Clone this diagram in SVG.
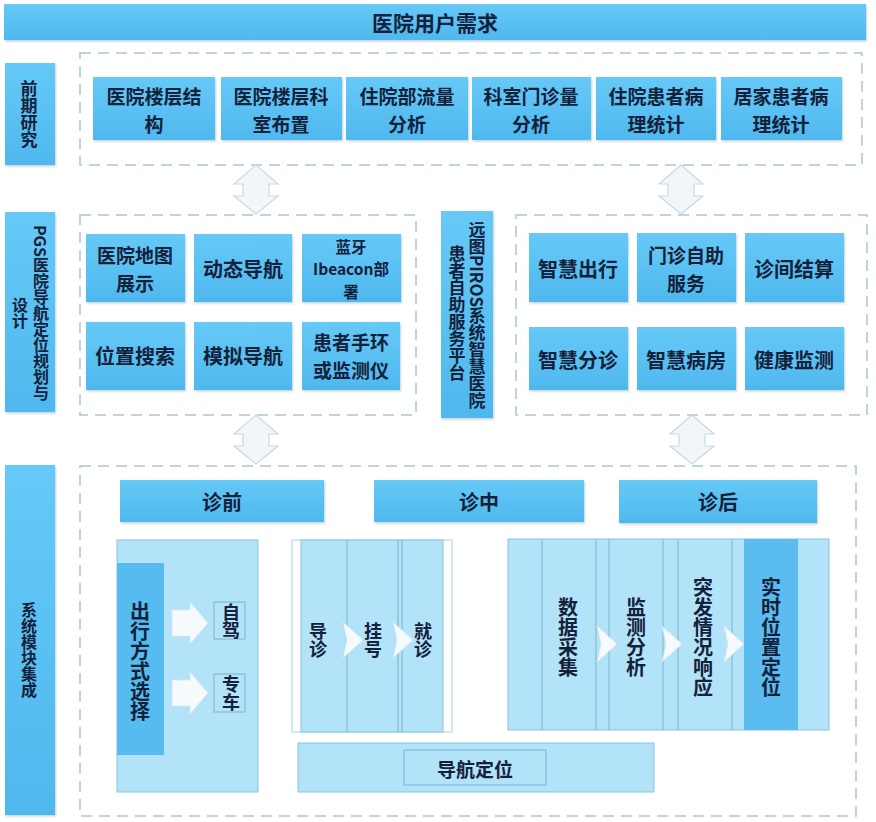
<svg xmlns="http://www.w3.org/2000/svg" width="876" height="822" viewBox="0 0 876 822">
<style>
.box{fill:url(#g);filter:url(#sh);}
.dark{fill:#56bbef;}
.pan{fill:#b3e3f8;stroke:#8cc3dc;stroke-width:1;}
.ol{fill:none;stroke:#7fb3cc;stroke-width:1;}
.dash{fill:none;stroke:#a7c8d6;stroke-width:1.5;stroke-dasharray:11 7;}
.t{font-family:"Noto Sans CJK SC","Noto Sans",sans-serif;font-weight:700;fill:#14213a;text-anchor:middle;dominant-baseline:central;}
.s{font-family:"Noto Sans CJK SC","Noto Sans",sans-serif;font-weight:600;fill:#14213a;text-anchor:middle;dominant-baseline:central;}
.v{writing-mode:vertical-rl;}
.dbl{fill:#f2f6f9;stroke:#c4dbe5;stroke-width:1.2;}
.chev{fill:#f7fafc;stroke:#d6e6ee;stroke-width:0.8;}
</style>
<defs>
<linearGradient id="g" x1="0" y1="0" x2="0" y2="1">
<stop offset="0" stop-color="#66c9f7"/>
<stop offset="1" stop-color="#4fb8ee"/>
</linearGradient>
<filter id="sh" x="-5%" y="-5%" width="110%" height="115%">
<feDropShadow dx="1" dy="1.5" stdDeviation="1" flood-color="#7a9aaa" flood-opacity="0.45"/>
</filter>
<path id="da" d="M0,0 L22,19 L13,19 L13,31 L22,31 L0,49 L-22,31 L-13,31 L-13,19 L-22,19 Z"/>
<path id="ba" d="M0,-13 L18,-13 L18,-21 L36,0 L18,21 L18,13 L0,13 Z"/>
<path id="cv" d="M0,-18 L20,0 L0,18 L4,0 Z"/>
</defs>
<rect width="876" height="822" fill="#ffffff"/>

<g id="title">
<rect class="box" x="4" y="4" width="862" height="36"/>
<text class="t" x="435" y="22" font-size="21">医院用户需求</text>
</g>

<g id="label-qianqi">
<rect class="box" x="5" y="63" width="50" height="102"/>
<text class="t v" x="29" y="114" font-size="17">前期研究</text>
</g>
<g id="label-pgs">
<rect class="box" x="5" y="212" width="50" height="200"/>
<text class="t v" x="41" y="313" font-size="16">PGS医院导航定位规划与</text>
<text class="t v" x="20" y="313" font-size="16">设计</text>
</g>
<g id="label-xitong">
<rect class="box" x="5" y="465" width="50" height="350"/>
<text class="t v" x="29" y="650" font-size="16">系统模块集成</text>
</g>
<g id="label-piros">
<rect class="box" x="441" y="211" width="52" height="207"/>
<text class="t v" x="477" y="315" font-size="17">远图PIROS系统智慧医院</text>
<text class="t v" x="457" y="313" font-size="17">患者自助服务平台</text>
</g>

<g id="frames">
<rect class="dash" x="80" y="53" width="782" height="112"/>
<rect class="dash" x="80" y="215" width="336" height="200"/>
<rect class="dash" x="516" y="215" width="351" height="200"/>
<rect class="dash" x="80" y="466" width="776" height="350"/>
</g>

<g id="row1">
<g id="n-louceng"><rect class="box" x="93" y="77" width="122" height="63"/><text class="t" font-size="19"><tspan x="154" y="94.5">医院楼层结</tspan><tspan x="154" y="122.5">构</tspan></text></g>
<g id="n-keshi"><rect class="box" x="221" y="77" width="121" height="63"/><text class="t" font-size="19"><tspan x="281" y="94.5">医院楼层科</tspan><tspan x="281" y="122.5">室布置</tspan></text></g>
<g id="n-zhuyuan"><rect class="box" x="346" y="77" width="122" height="63"/><text class="t" font-size="19"><tspan x="407" y="94.5">住院部流量</tspan><tspan x="407" y="122.5">分析</tspan></text></g>
<g id="n-menzhen"><rect class="box" x="472" y="77" width="119" height="63"/><text class="t" font-size="19"><tspan x="531" y="94.5">科室门诊量</tspan><tspan x="531" y="122.5">分析</tspan></text></g>
<g id="n-zybl"><rect class="box" x="596" y="77" width="120" height="63"/><text class="t" font-size="19"><tspan x="656" y="94.5">住院患者病</tspan><tspan x="656" y="122.5">理统计</tspan></text></g>
<g id="n-jjbl"><rect class="box" x="721" y="77" width="121" height="63"/><text class="t" font-size="19"><tspan x="781" y="94.5">居家患者病</tspan><tspan x="781" y="122.5">理统计</tspan></text></g>
</g>

<g id="row2-left">
<g id="n-ditu"><rect class="box" x="86" y="234" width="99" height="68"/><text class="t" font-size="19"><tspan x="135" y="254">医院地图</tspan><tspan x="135" y="282">展示</tspan></text></g>
<g id="n-dongtai"><rect class="box" x="194" y="234" width="98" height="68"/><text class="t" x="243" y="268" font-size="20">动态导航</text></g>
<g id="n-ibeacon"><rect class="box" x="302" y="234" width="99" height="68"/><text class="t" font-size="15.5"><tspan x="351" y="245.5">蓝牙</tspan><tspan x="351" y="268">Ibeacon部</tspan><tspan x="351" y="290.5">署</tspan></text></g>
<g id="n-sousuo"><rect class="box" x="86" y="322" width="99" height="68"/><text class="t" x="135" y="355" font-size="20">位置搜索</text></g>
<g id="n-moni"><rect class="box" x="194" y="322" width="98" height="68"/><text class="t" x="243" y="355" font-size="20">模拟导航</text></g>
<g id="n-shouhuan"><rect class="box" x="302" y="322" width="98" height="68"/><text class="t" font-size="19"><tspan x="351" y="341">患者手环</tspan><tspan x="351" y="369">或监测仪</tspan></text></g>
</g>

<g id="row2-right">
<g id="n-chuxing"><rect class="box" x="529" y="233" width="99" height="69"/><text class="t" x="578" y="268" font-size="20">智慧出行</text></g>
<g id="n-zizhu"><rect class="box" x="637" y="233" width="99" height="69"/><text class="t" font-size="19"><tspan x="686" y="254">门诊自助</tspan><tspan x="686" y="282">服务</tspan></text></g>
<g id="n-jiesuan"><rect class="box" x="745" y="233" width="99" height="69"/><text class="t" x="794" y="268" font-size="20">诊间结算</text></g>
<g id="n-fenzhen"><rect class="box" x="529" y="327" width="99" height="63"/><text class="t" x="578" y="359" font-size="20">智慧分诊</text></g>
<g id="n-bingfang"><rect class="box" x="637" y="327" width="99" height="63"/><text class="t" x="686" y="359" font-size="20">智慧病房</text></g>
<g id="n-jiankang"><rect class="box" x="745" y="327" width="99" height="63"/><text class="t" x="794" y="359" font-size="20">健康监测</text></g>
</g>

<g id="headers">
<g id="h-qian"><rect class="box" x="120" y="480" width="204" height="42"/><text class="t" x="222" y="501" font-size="20">诊前</text></g>
<g id="h-zhong"><rect class="box" x="374" y="480" width="210" height="42"/><text class="t" x="479" y="501" font-size="20">诊中</text></g>
<g id="h-hou"><rect class="box" x="619" y="480" width="198" height="43"/><text class="t" x="718" y="501" font-size="20">诊后</text></g>
</g>

<g id="panel-qian">
<rect class="pan" x="117" y="540" width="141" height="252"/>
<rect class="dark" x="117" y="563" width="47" height="192"/>
<text class="t v" x="140" y="661" font-size="20">出行方式选择</text>
<g id="n-zijia"><rect class="ol" x="214" y="602" width="31" height="37"/><text class="t v" x="231" y="621" font-size="18">自驾</text></g>
<g id="n-zhuanche"><rect class="ol" x="214" y="674" width="31" height="38"/><text class="t v" x="231" y="693" font-size="18">专车</text></g>
</g>

<g id="panel-zhong">
<rect x="292" y="540" width="160" height="192" fill="#ffffff" stroke="#a9cfe0" stroke-width="1"/>
<rect class="pan" x="301" y="540" width="142" height="192"/>
<line class="ol" x1="347" y1="540" x2="347" y2="732"/>
<line class="ol" x1="398" y1="540" x2="398" y2="732"/>
<line class="ol" x1="402" y1="540" x2="402" y2="732"/>
<g id="n-daozhen"><text class="t v" x="318" y="640" font-size="18">导诊</text></g>
<g id="n-guahao"><text class="s v" x="373" y="640" font-size="18">挂号</text></g>
<g id="n-jiuzhen"><text class="s v" x="423" y="640" font-size="18">就诊</text></g>
</g>

<g id="panel-hou">
<rect class="pan" x="508" y="539" width="321" height="191"/>
<rect x="744" y="539" width="54" height="191" fill="#5bbcf0"/>
<line class="ol" x1="542" y1="539" x2="542" y2="730"/>
<line class="ol" x1="596" y1="539" x2="596" y2="730"/>
<line class="ol" x1="609" y1="539" x2="609" y2="730"/>
<line class="ol" x1="663" y1="539" x2="663" y2="730"/>
<line class="ol" x1="678" y1="539" x2="678" y2="730"/>
<line class="ol" x1="732" y1="539" x2="732" y2="730"/>
<g id="n-caiji"><text class="s v" x="568" y="637" font-size="20">数据采集</text></g>
<g id="n-fenxi"><text class="s v" x="636" y="637" font-size="20">监测分析</text></g>
<g id="n-xiangying"><text class="s v" x="703" y="637" font-size="20">突发情况响应</text></g>
<g id="n-dingwei"><text class="s v" x="771" y="637" font-size="20">实时位置定位</text></g>
</g>

<g id="n-daohang">
<rect class="pan" x="298" y="743" width="356" height="49"/>
<rect class="ol" x="404" y="750" width="142" height="35"/>
<text class="t" x="475" y="768" font-size="19">导航定位</text>
</g>

<g id="connectors">
<use href="#da" class="dbl" x="256" y="165"/>
<use href="#da" class="dbl" x="256" y="415"/>
<use href="#da" class="dbl" x="681" y="165"/>
<use href="#da" class="dbl" x="692" y="415"/>
<use href="#ba" class="chev" x="172" y="623"/>
<use href="#ba" class="chev" x="172" y="693"/>
<use href="#cv" class="chev" x="343" y="640"/>
<use href="#cv" class="chev" x="393" y="640"/>
<use href="#cv" class="chev" x="597" y="644"/>
<use href="#cv" class="chev" x="662" y="644"/>
<use href="#cv" class="chev" x="724" y="644"/>
</g>
</svg>
